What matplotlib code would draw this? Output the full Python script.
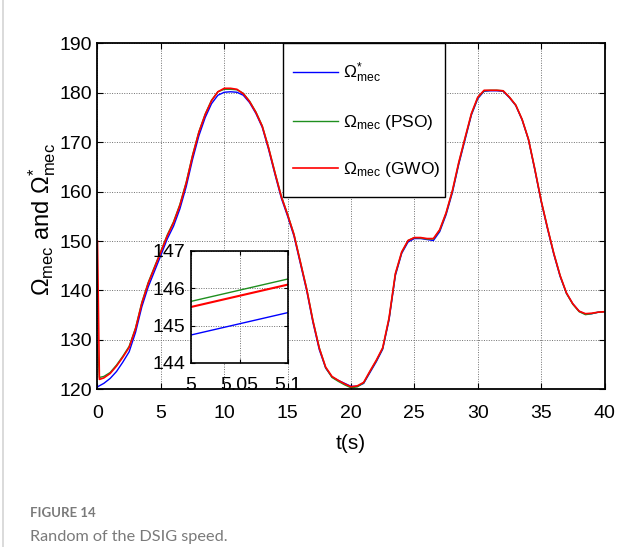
import matplotlib
matplotlib.use("Agg")
import matplotlib.pyplot as plt
from matplotlib.lines import Line2D
from matplotlib.patches import Rectangle

# ---------------- data ----------------
t_ref = [0, 0.5, 1, 1.5, 2, 2.5, 3, 3.5, 4, 4.5, 5, 5.5, 6, 6.5, 7, 7.5, 8, 8.5, 9, 9.5,
         10, 10.5, 11, 11.5, 12, 12.5, 13, 13.5, 14, 14.5, 15, 15.5, 16, 16.5, 17, 17.5,
         18, 18.5, 19, 19.5, 20, 20.5, 21, 21.5, 22, 22.5, 23, 23.5, 24, 24.5, 25, 25.5,
         26, 26.5, 27, 27.5, 28, 28.5, 29, 29.5, 30, 30.5, 31, 31.5, 32, 32.5, 33, 33.5,
         34, 34.5, 35, 35.5, 36, 36.5, 37, 37.5, 38, 38.5, 39, 39.5, 40]
w_ref = [120.5, 121.2, 122.2, 123.6, 125.5, 127.6, 131.5, 136.7, 140.7, 143.9, 147.1,
         150.4, 153.0, 156.5, 161.0, 166.5, 171.3, 175.0, 177.8, 179.5, 180.1, 180.2,
         180.1, 179.5, 178.0, 175.8, 173.0, 168.5, 163.5, 158.7, 155.0, 151.0, 145.5,
         140.0, 133.5, 128.0, 124.3, 122.5, 121.8, 121.2, 120.6, 120.6, 121.2, 123.4,
         125.6, 128.1, 134.0, 143.0, 147.5, 149.8, 150.5, 150.5, 150.3, 150.1, 151.9,
         155.3, 159.8, 165.5, 170.5, 175.5, 178.8, 180.3, 180.4, 180.4, 180.3, 179.0,
         177.4, 174.5, 170.5, 164.4, 158.0, 152.5, 147.3, 142.8, 139.4, 137.3, 135.8,
         135.2, 135.3, 135.6, 135.7]

t_sim = [0, 0.15] + t_ref[1:]
w_gwo = [150.0, 122.0, 122.3, 123.2, 124.7, 126.5, 128.5, 132.2, 137.4, 141.4, 144.6,
         147.8, 151.0, 153.7, 157.2, 161.7, 167.2, 172.0, 175.6, 178.4, 180.2, 180.9,
         180.9, 180.7, 179.8, 178.2, 176.0, 173.2, 168.8, 163.8, 159.0, 155.3, 151.3,
         145.8, 140.3, 133.8, 128.3, 124.5, 122.6, 121.8, 121.1, 120.5, 120.7, 121.4,
         123.7, 125.9, 128.4, 134.4, 143.4, 147.8, 150.1, 150.7, 150.7, 150.5, 150.5,
         152.3, 155.7, 160.2, 165.9, 170.9, 175.8, 179.1, 180.5, 180.5, 180.5, 180.4,
         179.1, 177.5, 174.6, 170.6, 164.6, 158.2, 152.7, 147.5, 143.0, 139.5, 137.3,
         135.8, 135.3, 135.4, 135.6, 135.7]
w_pso = [129.0, 122.4, 122.6, 123.4, 124.9, 126.7, 128.7, 132.4, 137.6, 141.6, 144.8,
         147.95, 151.2, 153.9, 157.4, 161.9, 167.4, 172.1, 175.7, 178.5, 180.2, 180.7,
         180.7, 180.6, 179.9, 178.3, 176.1, 173.3, 168.9, 163.9, 159.1, 155.4, 151.4,
         145.9, 140.4, 133.9, 128.4, 124.4, 122.4, 121.6, 120.9, 120.3, 120.5, 121.3,
         123.6, 125.8, 128.3, 134.3, 143.3, 147.7, 150.1, 150.7, 150.6, 150.4, 150.4,
         152.2, 155.6, 160.1, 165.8, 170.8, 175.7, 179.0, 180.4, 180.5, 180.5, 180.4,
         179.1, 177.5, 174.6, 170.6, 164.6, 158.2, 152.7, 147.5, 143.0, 139.4, 137.2,
         135.7, 135.1, 135.3, 135.6, 135.7]

t_zoom = [5.0, 5.1]
z_ref = [144.75, 145.35]
z_pso = [145.65, 146.25]
z_gwo = [145.5, 146.1]

x_ticks = [0, 5, 10, 15, 20, 25, 30, 35, 40]
y_ticks = [120, 130, 140, 150, 160, 170, 180, 190]
zx_ticks = [5.0, 5.05, 5.1]
zx_labels = ["5", "5.05", "5.1"]
zy_ticks = [144, 145, 146, 147]

labels = [r"$\Omega^{*}_{mec}$", r"$\Omega_{mec}$ (PSO)", r"$\Omega_{mec}$ (GWO)"]
ylabel_text = r"$\Omega_{mec}$ and $\Omega^{*}_{mec}$"

# ---------------- style ----------------
plt.rcParams["font.family"] = ["Liberation Sans", "DejaVu Sans"]
plt.rcParams["mathtext.fontset"] = "custom"
plt.rcParams["mathtext.rm"] = "Liberation Sans"
plt.rcParams["mathtext.it"] = "Liberation Sans"
plt.rcParams["mathtext.default"] = "regular"

C_BLUE = "#0000ff"
C_GREEN = "#1f8f1f"
C_RED = "#ff0000"
TICK_FS = 14

fig = plt.figure(figsize=(6.38, 5.47), dpi=100)
fig.patch.set_facecolor("white")

ax = fig.add_axes([0.1528, 0.2883, 0.7947, 0.6325])
ax.plot(t_ref, w_ref, color=C_BLUE, lw=1.0, label=labels[0])
ax.plot(t_sim, w_pso, color=C_GREEN, lw=1.0, label=labels[1])
ax.plot(t_sim, w_gwo, color=C_RED, lw=1.2, label=labels[2])
ax.set_xlim(0, 40)
ax.set_ylim(120, 190)
ax.set_xticks(x_ticks)
ax.set_yticks(y_ticks)
ax.tick_params(direction="in", top=True, right=True, length=4, width=0.8,
               labelsize=TICK_FS)
ax.tick_params(axis="x", pad=11)
ax.tick_params(axis="y", pad=4)
ax.grid(True, color="#707070", linestyle=(0, (1, 1.5)), linewidth=0.7)
for s in ax.spines.values():
    s.set_linewidth(1.3)
ax.set_xlabel("t(s)", fontsize=15)
ax.xaxis.set_label_coords(0.5, -0.13)
ax.set_ylabel(ylabel_text, fontsize=17)
ax.yaxis.set_label_coords(-0.077, 0.49)

# legend: frame drawn as a box, entries placed inside it
ax.add_patch(Rectangle((0.3659, 0.5558), 0.3195, 0.4442, transform=ax.transAxes,
                       facecolor="white", edgecolor="black", lw=1.0, zorder=4.8,
                       clip_on=False))
leg = ax.legend(loc="upper left", bbox_to_anchor=(0.3856, 0.949), borderaxespad=0.0,
                frameon=False, handlelength=2.6, labelspacing=1.6, borderpad=0.0,
                handletextpad=0.3, fontsize=12.5)
leg.set_zorder(5)

# inset
axi = fig.add_axes([0.2994, 0.3364, 0.152, 0.2048])
axi.plot(t_zoom, z_ref, color=C_BLUE, lw=1.0)
axi.plot(t_zoom, z_pso, color=C_GREEN, lw=1.0)
axi.plot(t_zoom, z_gwo, color=C_RED, lw=1.5)
axi.set_xlim(5.0, 5.1)
axi.set_ylim(144, 147)
axi.set_xticks(zx_ticks)
axi.set_xticklabels(zx_labels)
axi.set_yticks(zy_ticks)
axi.tick_params(direction="in", top=True, right=True, length=3, width=0.8,
                labelsize=TICK_FS)
axi.tick_params(axis="x", pad=10)
axi.tick_params(axis="y", pad=4)
axi.grid(True, color="#707070", linestyle=(0, (1, 1.5)), linewidth=0.7)
for s in axi.spines.values():
    s.set_linewidth(1.2)

# page decoration
fig.add_artist(Line2D([3 / 638, 3 / 638], [0, 1], transform=fig.transFigure,
                      color="#d4d4d4", lw=1.2))
cap_font = ["Lato", "DejaVu Sans"]
fig.text(30 / 638, 1 - 513 / 547, "FIGURE 14", fontsize=9.5, fontweight="bold",
         color="#7a7a7a", family=cap_font, va="center")
fig.text(30 / 638, 1 - 537 / 547, "Random of the DSIG speed.", fontsize=11.7,
         color="#7a7a7a", family=cap_font, va="center")

fig.savefig("out.png", dpi=100)
